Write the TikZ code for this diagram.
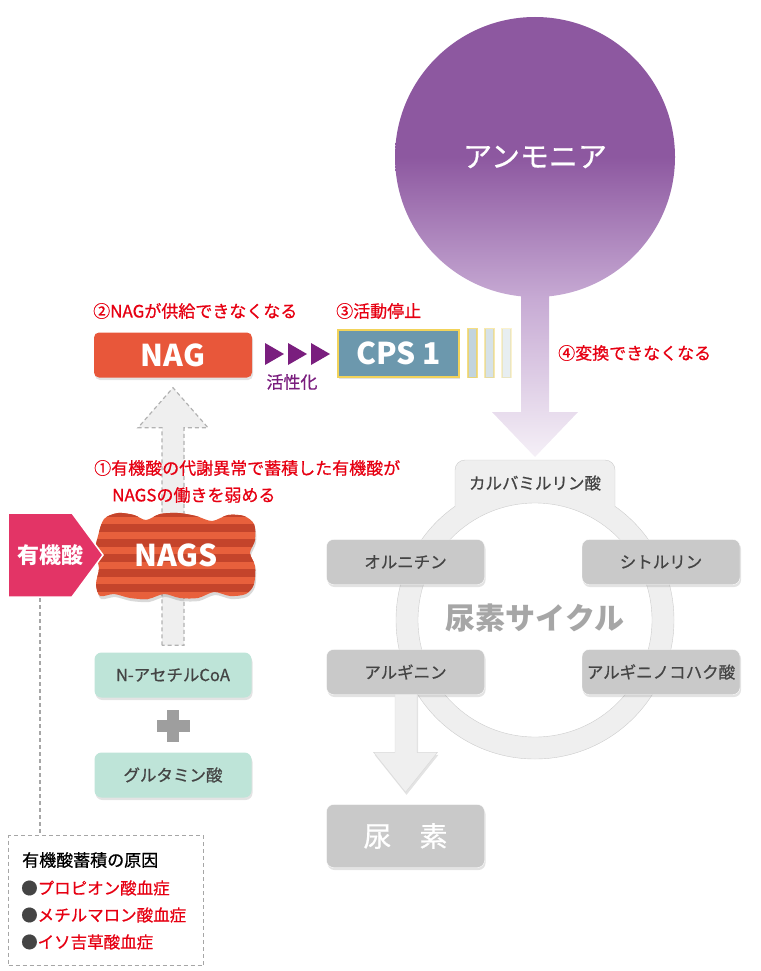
\documentclass[tikz,border=0pt]{standalone}
\usepackage{fontspec}
\setmainfont{Noto Sans CJK JP}
\newfontfamily\medfont{Noto Sans CJK JP}[FakeBold=0.7]
\usepackage{xcolor}
\usepackage{tikz}
\usetikzlibrary{positioning,calc,shadows}
\definecolor{nagred}{HTML}{E8573A}
\definecolor{cpsblue}{HTML}{6C98AD}
\definecolor{cpsgold}{HTML}{F2D35A}
\definecolor{actpurple}{HTML}{7A1E7E}
\definecolor{acidpink}{HTML}{E33466}
\definecolor{stripedark}{HTML}{C4442B}
\definecolor{stripelight}{HTML}{E8603C}
\definecolor{alertred}{HTML}{E60012}
\definecolor{mint}{HTML}{BEE4D8}
\definecolor{cyclegray}{HTML}{C9C9C9}
\definecolor{textgray}{HTML}{444444}
\definecolor{ringgray}{HTML}{EFEFEF}
\definecolor{ammotop}{HTML}{8D58A0}
\definecolor{ammobot}{HTML}{C6A9D3}
\definecolor{ammofade}{HTML}{F5F0F7}

\begin{document}
\begin{tikzpicture}[x=1pt,y=-1pt,
    every node/.style={inner sep=0pt},
    softshadow/.style={drop shadow={opacity=0.22,shadow xshift=1pt,shadow yshift=-2.5pt}},
    redlabel/.style={anchor=west, text=alertred, font=\medfont\fontsize{17}{20}\selectfont},
    enzbox/.style={softshadow, rounded corners=5pt, minimum width=158pt, minimum height=45pt, text=white, font=\fontsize{30}{30}\selectfont\bfseries},
    substbox/.style={softshadow, rounded corners=7pt, minimum width=157pt, minimum height=45pt, fill=mint, text=textgray, font=\medfont\fontsize{16.5}{18}\selectfont},
    cyclebox/.style={softshadow, rounded corners=7pt, minimum width=158pt, minimum height=45pt, fill=cyclegray, draw=white, text=textgray, font=\medfont\fontsize{16.5}{18}\selectfont},
    fatarrow/.style={softshadow, fill=ringgray, draw=black!15},
    uparrow/.style={fill=ringgray, draw=black!30, line width=1.2pt, dash pattern=on 4pt off 3pt},
    legenddash/.style={draw=black!35, line width=1.2pt, dash pattern=on 4pt off 3pt}
]
    \useasboundingbox (0,0) rectangle (760,971);

    \coordinate (cyc) at (535,620);
    \coordinate (tabtop) at (535,460);
    \filldraw[fill=ringgray, draw=black!20] (cyc) circle (139pt);
    \filldraw[fill=ringgray, draw=black!20, rounded corners=10pt] (455,507) -- (455,460) -- (615,460) -- (615,507);
    \filldraw[fill=white, draw=black!20] (cyc) circle (117pt);
    \node[text=textgray, font=\medfont\fontsize{16.5}{18}\selectfont] (carb) at (535,483) {カルバミルリン酸};
    \node[text=black!35, font=\fontsize{30}{30}\selectfont\bfseries] (cycle) at (535,618) {尿素サイクル};
    \node[cyclebox] (orn) at (405.5,562) {オルニチン};
    \node[cyclebox] (cit) at (661,562) {シトルリン};
    \node[cyclebox] (arg) at (405.5,672) {アルギニン};
    \node[cyclebox] (asa) at (661,672) {アルギニノコハク酸};
    \node[cyclebox, minimum height=63pt, text=white, font=\medfont\fontsize{28}{28}\selectfont] (urea) at (405.5,836) {尿　素};
    \coordinate (ureatip) at ($(urea.north)+(0,-12)$);
    \filldraw[fatarrow] ($(arg.south)+(-10.5,0)$) -- ($(ureatip)+(-10.5,-40)$) -- ($(ureatip)+(-32,-40)$) -- (ureatip)
        -- ($(ureatip)+(32,-40)$) -- ($(ureatip)+(11.5,-40)$) -- ($(arg.south)+(11.5,0)$);

    \node[circle, minimum size=280pt, top color=ammotop, bottom color=ammobot, middle color=ammotop, text=white, font=\medfont\fontsize{29}{29}\selectfont] (ammonia) at (535,157) {アンモニア};
    \shade[top color=ammobot, bottom color=ammofade] ($(ammonia.south)+(-14,-1)$) -- ($(tabtop)+(-14,-48)$) -- ($(tabtop)+(-43,-48)$)
        -- ($(tabtop)+(0,-3)$) -- ($(tabtop)+(43,-48)$) -- ($(tabtop)+(14,-48)$) -- ($(ammonia.south)+(14,-1)$) -- cycle;

    \node[enzbox, fill=nagred] (nag) at (173,355) {NAG};
    \node[enzbox, fill=cpsblue, draw=cpsgold, line width=2pt, rounded corners=0pt, minimum width=121pt, minimum height=47pt] (cps) at (398.5,353) {CPS 1};
    \foreach \i/\op in {0/0.75,1/0.5,2/0.3}
        \filldraw[fill=cpsblue!55, draw=cpsgold, line width=1.5pt, opacity=\op] ($(cps.north east)+({8+17*\i},0)$) rectangle ($(cps.south east)+({17+17*\i},0)$);
    \foreach \i in {0,1,2}
        \fill[actpurple] ({265+23*\i},343) -- ({284+23*\i},354) -- ({265+23*\i},365) -- cycle;
    \node[text=actpurple, font=\medfont\fontsize{17}{20}\selectfont] (act) at (292,382) {活性化};

    \node[substbox] (acoa) at (173,675) {N-アセチルCoA};
    \node[substbox] (glu) at (173,775) {グルタミン酸};
    \fill[black!38] (157,720) rectangle (190,732);
    \fill[black!38] (167,710) rectangle (179,742);

    \coordinate (upfoot) at ($(acoa.north)+(0,-7)$);
    \coordinate (uptip) at ($(nag.south)+(0,10)$);
    \filldraw[uparrow] ($(upfoot)+(-11,0)$) -- ($(uptip)+(-11,40)$) -- ($(uptip)+(-35,40)$) -- (uptip)
        -- ($(uptip)+(35,40)$) -- ($(uptip)+(11,40)$) -- ($(upfoot)+(11,0)$) -- cycle;

    \node[redlabel] (lbl2) at (93,311) {②NAGが供給できなくなる};
    \node[redlabel] (lbl3) at (336,311) {③活動停止};
    \node[redlabel] (lbl4) at (558,353) {④変換できなくなる};
    \node[redlabel] (lbl1) at (94,468) {①有機酸の代謝異常で蓄積した有機酸が};
    \node[redlabel] (lbl1b) at (112,495) {NAGSの働きを弱める};

    \fill[black, opacity=0.15] plot[smooth cycle] coordinates {(105,522) (119,516) (135,518) (147,523) (161,517) (179,516) (197,519) (213,524) (229,518) (245,519) (255,527)
        (256,543) (251,556) (256,569) (255,587) (247,597) (231,599) (215,595) (199,601) (181,601) (165,597) (149,602) (131,601) (115,597) (101,599)
        (97,587) (100,571) (96,555) (99,539)};
    \begin{scope}
        \clip plot[smooth cycle] coordinates {(104,519) (118,513) (134,515) (146,520) (160,514) (178,513) (196,516) (212,521) (228,515) (244,516) (254,524)
            (255,540) (250,553) (255,566) (254,584) (246,594) (230,596) (214,592) (198,598) (180,598) (164,594) (148,599) (130,598) (114,594) (100,596)
            (96,584) (99,568) (95,552) (98,536)};
        \fill[stripelight] (90,505) rectangle (262,605);
        \foreach \s in {0,...,6}
            \fill[stripedark] (90,{509+15*\s}) rectangle (262,{516.5+15*\s});
    \end{scope}
    \node[text=white, font=\fontsize{30}{30}\selectfont\bfseries] (nags) at (176,555) {NAGS};

    \filldraw[fill=acidpink, draw=white, line width=1.5pt] (8,513) -- (72,513) -- (103,555) -- (72,597) -- (8,597) -- cycle;
    \node[text=white, font=\fontsize{22}{22}\selectfont\bfseries] (acid) at (50,555) {有機酸};

    \node[legenddash, minimum width=195pt, minimum height=130pt, anchor=north west] (legend) at (8,835) {};
    \coordinate (acidfoot) at (40,598);
    \draw[legenddash] (acidfoot) -- (acidfoot |- legend.north);
    \node[anchor=west, font=\medfont\fontsize{17}{20}\selectfont] (lgtitle) at (22,860) {有機酸蓄積の原因};
    \foreach \t/\y [count=\k] in {プロピオン酸血症/888,メチルマロン酸血症/915,イソ吉草酸血症/942}
        \node[anchor=west, font=\medfont\fontsize{16.5}{20}\selectfont] (lg\k) at (21,\y) {\textcolor{textgray}{●}\textcolor{alertred}{\t}};
\end{tikzpicture}
\end{document}
